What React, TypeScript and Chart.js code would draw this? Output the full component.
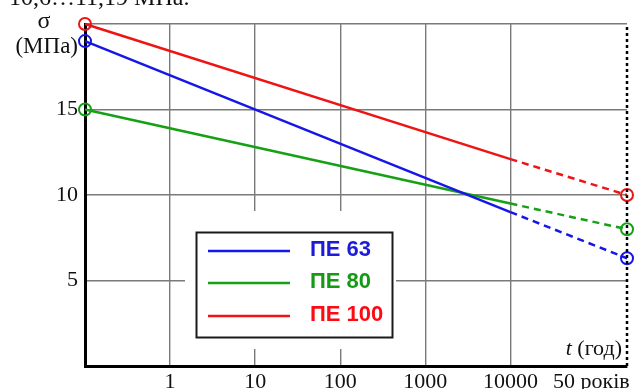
import { useEffect, useRef } from "react";
import { Chart, registerables } from "chart.js";

Chart.register(...registerables);

// Series (σ in MPa) at: t = 0.1 h, t = 10000 h, 50-years mark
const seriesNames = ["ПЕ 63", "ПЕ 80", "ПЕ 100"];
const pe63 = [19.0, 9.0, 6.3];
const pe80 = [15.0, 9.5, 8.0];
const pe100 = [20.0, 12.1, 10.0];
// x positions as decimal exponent of time in hours (schematic 50-year mark)
const xPoints = [-1, 4, 5.37];
const xTickValues = [0, 1, 2, 3, 4];
const xTickLabels = ["1", "10", "100", "1000", "10000"];
const fiftyLabel = "50 років";
const yTickValues = [5, 10, 15];
const yGridValues = [0, 5, 10, 15, 20];

const lineColors = ["#1616e8", "#16a016", "#ee1414"];
const textColors = ["#1c1cd8", "#169a16", "#ff0a14"];

const SERIF = "'Liberation Serif', 'DejaVu Serif', serif";
const SANS = "'Liberation Sans', Arial, sans-serif";

const overlay = {
  id: "overlay",
  afterDatasetsDraw(chart: any) {
    const ctx = chart.ctx;
    ctx.save();
    // legend box
    ctx.fillStyle = "#ffffff";
    ctx.fillRect(185, 211, 211, 138);
    ctx.strokeStyle = "#1a1a1a";
    ctx.lineWidth = 2;
    ctx.strokeRect(196.5, 232.5, 196, 105);
    const ys = [250, 282, 315];
    seriesNames.forEach((name, i) => {
      ctx.strokeStyle = lineColors[i];
      ctx.lineWidth = 2.5;
      ctx.beginPath();
      ctx.moveTo(208, ys[i] + 1);
      ctx.lineTo(290, ys[i] + 1);
      ctx.stroke();
      ctx.fillStyle = textColors[i];
      ctx.font = `bold 22px ${SANS}`;
      ctx.textAlign = "left";
      ctx.textBaseline = "middle";
      ctx.fillText(name, 310, ys[i]);
    });
    ctx.restore();
  },
  afterDraw(chart: any) {
    const ctx = chart.ctx;
    const xs = chart.scales.x;
    ctx.save();
    ctx.fillStyle = "#111111";
    ctx.textBaseline = "alphabetic";
    // cut-off line of preceding text
    ctx.font = `24px ${SERIF}`;
    ctx.textAlign = "left";
    ctx.fillText("10,6…11,19 МПа.", 9, 5);
    // y axis label
    ctx.font = `24px ${SERIF}`;
    ctx.textAlign = "center";
    ctx.fillText("σ", 44, 28);
    ctx.font = `23px ${SERIF}`;
    ctx.textAlign = "right";
    ctx.fillText("(МПа)", 78, 53);
    // x axis label
    ctx.font = `22px ${SERIF}`;
    ctx.textAlign = "right";
    const rest = " (год)";
    ctx.fillText(rest, 622, 355);
    const w = ctx.measureText(rest).width;
    ctx.font = `italic 22px ${SERIF}`;
    ctx.fillText("t", 622 - w, 355);
    // 50-years tick label
    ctx.font = `22px ${SERIF}`;
    ctx.textAlign = "left";
    ctx.fillText(fiftyLabel, xs.getPixelForValue(xPoints[2]) - 74, 388);
    ctx.restore();
  },
};

export default function App() {
  const ref = useRef<HTMLCanvasElement>(null);
  useEffect(() => {
    const all = [pe63, pe80, pe100];
    const datasets: any[] = [];
    datasets.push({
      data: [
        { x: xPoints[2], y: 0 },
        { x: xPoints[2], y: 20 },
      ],
      borderColor: "#000000",
      borderWidth: 2.5,
      borderDash: [3, 3],
      pointRadius: 0,
      clip: false,
    });
    all.forEach((s, i) => {
      datasets.push({
        label: seriesNames[i],
        data: [
          { x: xPoints[0], y: s[0] },
          { x: xPoints[1], y: s[1] },
        ],
        borderColor: lineColors[i],
        borderWidth: 2.5,
        pointRadius: [6, 0],
        pointBorderWidth: 2,
        pointBorderColor: lineColors[i],
        pointBackgroundColor: "rgba(0,0,0,0)",
        clip: false,
      });
      datasets.push({
        data: [
          { x: xPoints[1], y: s[1] },
          { x: xPoints[2], y: s[2] },
        ],
        borderColor: lineColors[i],
        borderWidth: 2.5,
        borderDash: [7, 5],
        pointRadius: [0, 6],
        pointBorderWidth: 2,
        pointBorderColor: lineColors[i],
        pointBackgroundColor: "rgba(0,0,0,0)",
        clip: false,
      });
    });
    const chart = new Chart(ref.current as HTMLCanvasElement, {
      type: "line",
      data: { datasets },
      options: {
        animation: false,
        responsive: false,
        layout: { padding: { top: 24, right: 6, left: 0, bottom: 0 } },
        plugins: { legend: { display: false }, tooltip: { enabled: false } },
        scales: {
          x: {
            type: "linear",
            min: xPoints[0],
            max: xPoints[2],
            afterBuildTicks: (scale: any) => {
              scale.ticks = [...xTickValues, xPoints[2]].map((v) => ({ value: v }));
            },
            afterFit: (scale: any) => {
              scale.height = 23;
              scale.paddingLeft = 0;
              scale.paddingRight = 0;
            },
            ticks: {
              autoSkip: false,
              maxRotation: 0,
              padding: 3,
              color: "#111111",
              font: { family: SERIF, size: 22 },
              callback: (v: any) => {
                const idx = xTickValues.indexOf(Number(v));
                return idx >= 0 ? xTickLabels[idx] : "";
              },
            },
            grid: {
              drawTicks: false,
              lineWidth: 1.4,
              color: (c: any) =>
                c.tick && xTickValues.includes(c.tick.value) ? "#7a7a7a" : "rgba(0,0,0,0)",
            },
            border: { display: true, color: "#000000", width: 3 },
          },
          y: {
            type: "linear",
            min: 0,
            max: 20,
            afterBuildTicks: (scale: any) => {
              scale.ticks = yGridValues.map((v) => ({ value: v }));
            },
            afterFit: (scale: any) => {
              scale.width = 85;
              scale.paddingTop = 0;
              scale.paddingBottom = 0;
            },
            ticks: {
              padding: 7,
              color: "#111111",
              font: { family: SERIF, size: 22 },
              callback: (v: any) => (yTickValues.includes(Number(v)) ? String(v) : ""),
            },
            grid: {
              drawTicks: false,
              lineWidth: 1.4,
              color: (c: any) => (c.tick && c.tick.value > 0 ? "#7a7a7a" : "rgba(0,0,0,0)"),
            },
            border: { display: true, color: "#000000", width: 3 },
          },
        },
      },
      plugins: [overlay],
    });
    return () => chart.destroy();
  }, []);
  return (
    <div style={{ position: "fixed", left: 0, top: 0, width: 635, height: 389, background: "#fff" }}>
      <canvas ref={ref} width={635} height={389} style={{ display: "block" }} />
    </div>
  );
}
